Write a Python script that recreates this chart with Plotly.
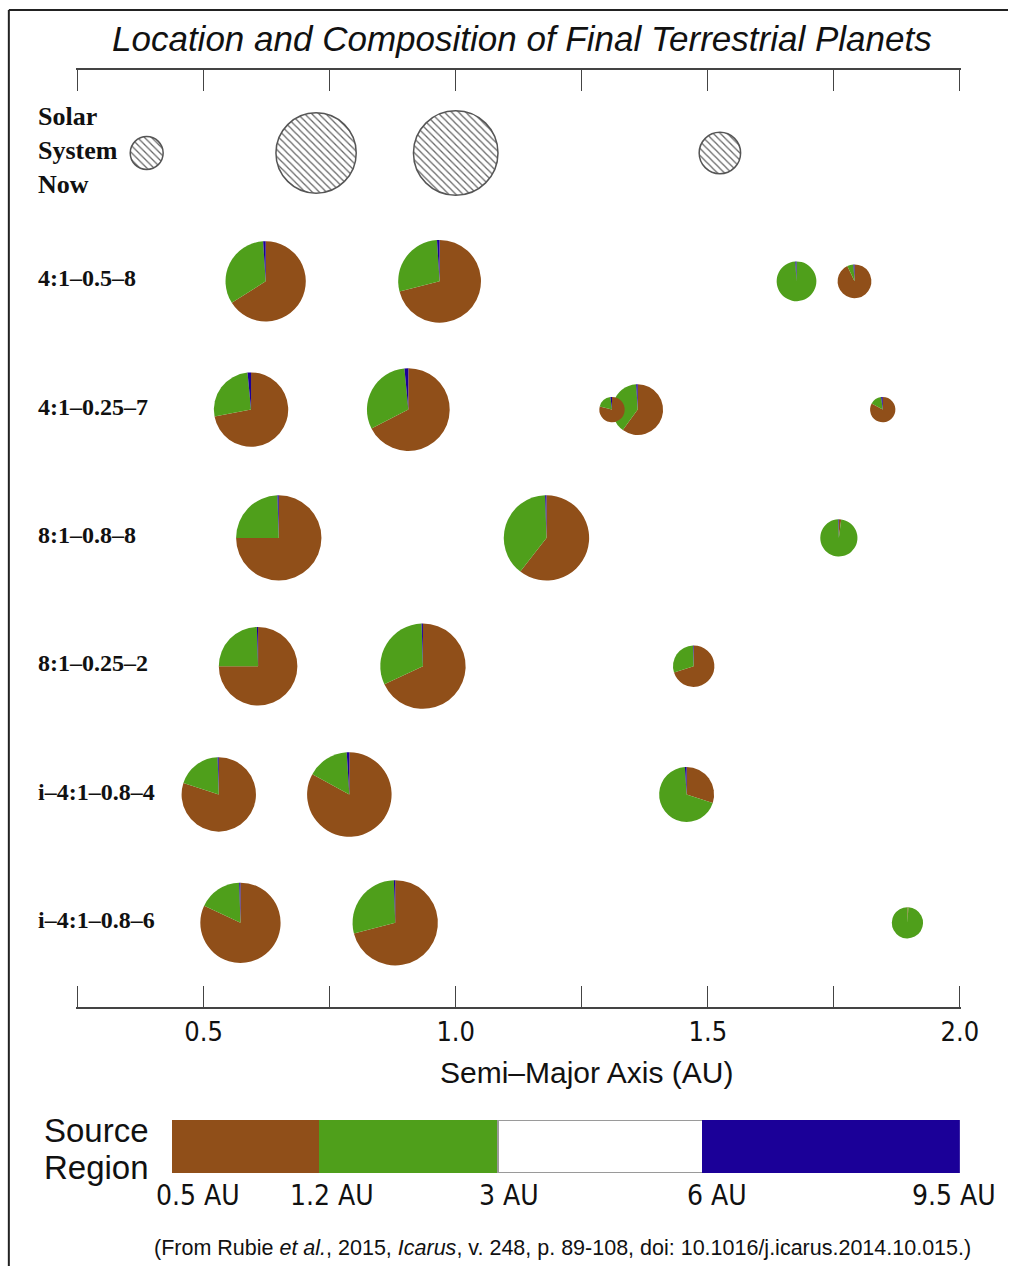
import plotly.graph_objects as go

# ---------------- data ----------------
row_labels = ["Solar<br>System<br>Now", "4:1–0.5–8", "4:1–0.25–7", "8:1–0.8–8",
              "8:1–0.25–2", "i–4:1–0.8–4", "i–4:1–0.8–6"]

solar_names = ["Mercury", "Venus", "Earth", "Mars"]
solar_a = [0.387, 0.723, 1.000, 1.524]
solar_radius = [0.39, 0.95, 1.00, 0.49]          # Earth radii

planet_row = [1, 1, 1, 1,
              2, 2, 2, 2, 2,
              3, 3, 3,
              4, 4, 4,
              5, 5, 5,
              6, 6, 6]
planet_a = [0.623, 0.968, 1.676, 1.791,
            0.594, 0.906, 1.361, 1.310, 1.847,
            0.649, 1.180, 1.760,
            0.608, 0.935, 1.472,
            0.530, 0.789, 1.458,
            0.573, 0.880, 1.896]
planet_radius = [0.95, 0.98, 0.47, 0.40,
                 0.88, 0.98, 0.60, 0.30, 0.30,
                 1.01, 1.01, 0.44,
                 0.93, 1.01, 0.49,
                 0.88, 1.00, 0.65,
                 0.95, 1.01, 0.37]
frac_05_12 = [0.66, 0.71, 0.00, 0.93,
              0.72, 0.675, 0.60, 0.79, 0.83,
              0.75, 0.605, 0.02,
              0.75, 0.68, 0.70,
              0.80, 0.83, 0.30,
              0.82, 0.71, 0.01]
frac_12_3 = [0.33, 0.28, 0.99, 0.06,
             0.265, 0.31, 0.39, 0.19, 0.15,
             0.245, 0.39, 0.975,
             0.245, 0.315, 0.295,
             0.195, 0.16, 0.69,
             0.175, 0.285, 0.99]
frac_3_6 = [0.0] * 21
frac_6_95 = [0.01, 0.01, 0.01, 0.01,
             0.015, 0.015, 0.01, 0.02, 0.02,
             0.005, 0.005, 0.005,
             0.005, 0.005, 0.005,
             0.005, 0.01, 0.01,
             0.005, 0.005, 0.0]

source_regions = ["0.5–1.2 AU", "1.2–3 AU", "3–6 AU", "6–9.5 AU"]
source_labels = ["0.5 AU", "1.2 AU", "3 AU", "6 AU", "9.5 AU"]

x_tickvals = [0.25, 0.5, 0.75, 1.0, 1.25, 1.5, 1.75, 2.0]
x_ticktext = ["", "0.5", "", "1.0", "", "1.5", "", "2.0"]

# ---------------- layout constants ----------------
W, H = 1026, 1266
AX_L, AX_R, AX_T, AX_B = 79, 977, 70, 1007      # pixel positions of XMIN / XMAX and axis lines
XMIN, XMAX = 0.25, 2.0
XPAD = 0.003                                     # keeps the end ticks from being clipped
PX_PER_AU = (AX_R - AX_L) / (XMAX - XMIN)
DOM_L = AX_L - XPAD * PX_PER_AU
DOM_R = AX_R + XPAD * PX_PER_AU
ROW0, ROWSTEP = 153, 128.3
Y_TOP = -(ROW0 - AX_T) / ROWSTEP
Y_BOT = (AX_B - ROW0) / ROWSTEP
PX_PER_REARTH = 43.0

SRC_COLORS = ["#904f19", "#4f9f1b", "#ffffff", "#1b0098"]
KEY_WIDTHS = [150, 182, 208, 262]
KEY_L, KEY_R, KEY_T, KEY_B = 175, 977, 1120, 1173

SANS = "Liberation Sans, Arial, sans-serif"
NARROW = "Liberation Sans Narrow, Arial Narrow, DejaVu Sans Condensed, sans-serif"
SERIF = "Liberation Serif, Times New Roman, serif"


def x_px(a):
    return AX_L + (a - XMIN) * PX_PER_AU


def y_px(row):
    return AX_T + (row - Y_TOP) / (Y_BOT - Y_TOP) * (AX_B - AX_T)


def pie_domain(a, row, radius):
    cx, cy, r = x_px(a), y_px(row), radius * PX_PER_REARTH
    return dict(x=[(cx - r) / W, (cx + r) / W], y=[1 - (cy + r) / H, 1 - (cy - r) / H])


fig = go.Figure()

# invisible anchor points (pie centres) so the cartesian axis is drawn
fig.add_trace(go.Scatter(x=solar_a + planet_a, y=[0] * len(solar_a) + planet_row,
                         mode="markers", marker=dict(opacity=0), hoverinfo="skip",
                         showlegend=False, xaxis="x", yaxis="y"))

# source-region key: stacked horizontal bar
for name, w, c in zip(source_regions, KEY_WIDTHS, SRC_COLORS):
    fig.add_trace(go.Bar(x=[w], y=[0], orientation="h", name=name, width=1,
                         marker=dict(color=c, line=dict(color="#9a9a9a" if c == "#ffffff" else c,
                                                          width=1.5 if c == "#ffffff" else 0)),
                         showlegend=False, hoverinfo="skip", xaxis="x3", yaxis="y3"))

# Solar System planets (hatched)
for n, a, r in zip(solar_names, solar_a, solar_radius):
    fig.add_trace(go.Pie(values=[1], labels=[n], domain=pie_domain(a, 0, r),
                         sort=False, textinfo="none", hoverinfo="label", showlegend=False,
                         marker=dict(colors=["white"], line=dict(color="#555555", width=1.5),
                                     pattern=dict(shape="\\", fgcolor="#666666", bgcolor="white",
                                                  size=5, solidity=0.25))))

# simulated planets, largest first so smaller ones sit on top
order = sorted(range(len(planet_a)), key=lambda i: -planet_radius[i])
for i in order:
    vals = [frac_05_12[i], frac_12_3[i], frac_3_6[i], frac_6_95[i]]
    fig.add_trace(go.Pie(values=vals, labels=source_regions,
                         domain=pie_domain(planet_a[i], planet_row[i], planet_radius[i]),
                         sort=False, direction="clockwise", rotation=0, textinfo="none",
                         hoverinfo="label+percent", showlegend=False,
                         marker=dict(colors=SRC_COLORS, line=dict(width=0))))

annotations = []
annotations.append(dict(text="<i>Location and Composition of Final Terrestrial Planets</i>",
                        x=531 / W, y=1 - 38 / H, xref="paper", yref="paper", showarrow=False,
                        xanchor="center", yanchor="middle", font=dict(family=SANS, size=35, color="#111")))
for i, lab in enumerate(row_labels):
    annotations.append(dict(text="<b>" + lab + "</b>", x=37 / W, y=1 - (y_px(i) - 3) / H,
                            xref="paper", yref="paper", showarrow=False, xanchor="left",
                            yanchor="middle", align="left",
                            font=dict(family=SERIF, size=26 if i == 0 else 24, color="#111")))
annotations.append(dict(text="Semi–Major Axis (AU)", x=597 / W, y=1 - 1072 / H, xref="paper", yref="paper",
                        showarrow=False, xanchor="center", yanchor="middle",
                        font=dict(family=SANS, size=30, color="#111")))
for txt, yy in zip(["Source", "Region"], [1130, 1167]):
    annotations.append(dict(text=txt, x=98 / W, y=1 - yy / H, xref="paper", yref="paper",
                            showarrow=False, xanchor="center", yanchor="middle",
                            font=dict(family=SANS, size=33, color="#111")))
bounds = [0]
for w in KEY_WIDTHS:
    bounds.append(bounds[-1] + w)
label_shift = [26, 13, 11, 15, -6]
for lab, b, s in zip(source_labels, bounds, label_shift):
    annotations.append(dict(text=lab, x=b, y=0, xref="x3", yref="y3", showarrow=False,
                            xanchor="center", yanchor="top", xshift=s, yshift=-30,
                            font=dict(family=NARROW, size=28, color="#111")))
annotations.append(dict(text="(From Rubie <i>et al.</i>, 2015, <i>Icarus</i>, v. 248, p. 89-108, "
                             "doi: 10.1016/j.icarus.2014.10.015.)",
                        x=573 / W, y=1 - 1248 / H, xref="paper", yref="paper", showarrow=False,
                        xanchor="center", yanchor="middle", font=dict(family=SANS, size=21.5, color="#111")))

shapes = [
    dict(type="line", xref="paper", yref="paper", x0=9 / W, x1=9 / W, y0=0, y1=1 - 10 / H,
         line=dict(color="#222", width=2)),
    dict(type="line", xref="paper", yref="paper", x0=9 / W, x1=1, y0=1 - 10 / H, y1=1 - 10 / H,
         line=dict(color="#222", width=2)),
]

fig.update_layout(
    width=W, height=H, margin=dict(l=0, r=0, t=0, b=0),
    paper_bgcolor="white", plot_bgcolor="rgba(0,0,0,0)",
    barmode="stack", showlegend=False,
    xaxis=dict(domain=[DOM_L / W, DOM_R / W], range=[XMIN - XPAD, XMAX + XPAD], anchor="y",
               tickvals=x_tickvals, ticktext=x_ticktext, ticks="inside", ticklen=21,
               tickwidth=1.3, tickcolor="#444", showline=True, linecolor="#444", linewidth=1.5,
               mirror="ticks", showgrid=False, zeroline=False,
               tickfont=dict(family=NARROW, size=27, color="#111")),
    yaxis=dict(domain=[1 - AX_B / H, 1 - AX_T / H], range=[Y_BOT, Y_TOP], anchor="x",
               visible=False, showgrid=False, zeroline=False),
    xaxis3=dict(domain=[KEY_L / W, KEY_R / W], range=[0, sum(KEY_WIDTHS)], anchor="y3",
                visible=False, showgrid=False, zeroline=False),
    yaxis3=dict(domain=[1 - KEY_B / H, 1 - KEY_T / H], range=[-0.5, 0.5], anchor="x3",
                visible=False, showgrid=False, zeroline=False),
    annotations=annotations, shapes=shapes,
)

fig.write_html("out.html", config={"displayModeBar": False},
               post_script="document.body.style.margin='0';document.body.style.overflow='hidden';"
                           "document.documentElement.style.overflow='hidden';")
